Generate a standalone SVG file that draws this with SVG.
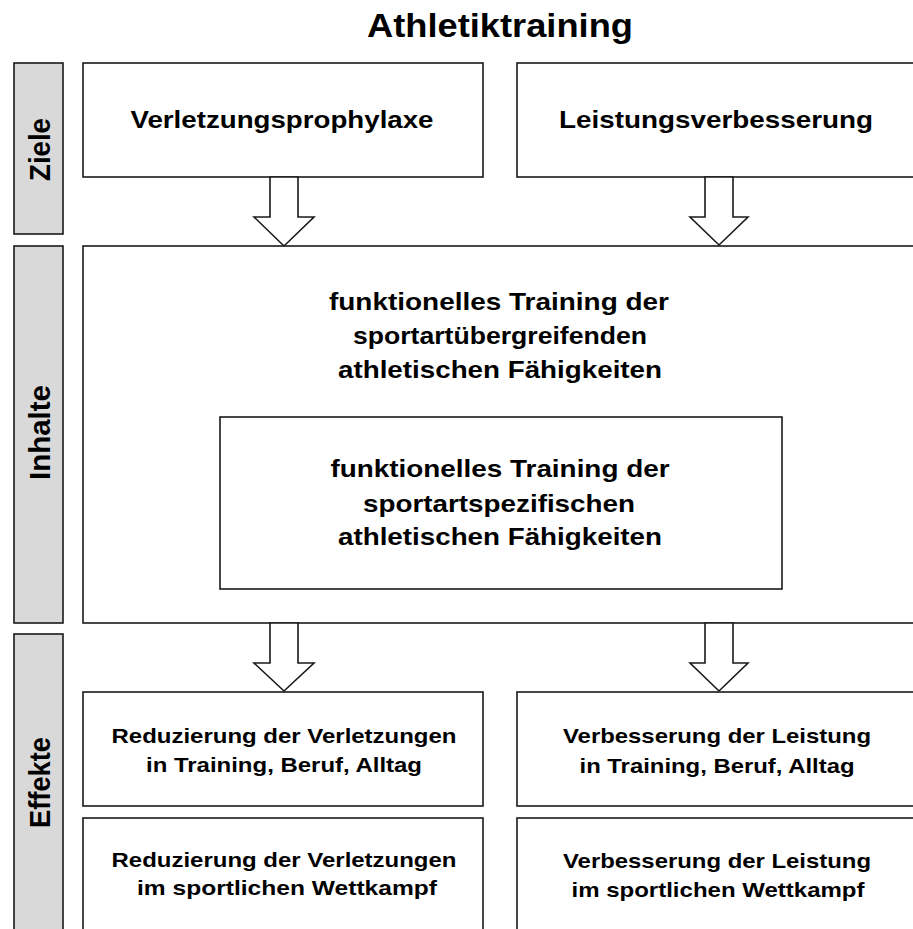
<svg xmlns="http://www.w3.org/2000/svg" width="913" height="929" viewBox="0 0 913 929">
<style>
  .box { fill: #ffffff; stroke: #1a1a1a; stroke-width: 1.6; }
  .side { fill: #d9d9d9; stroke: #1a1a1a; stroke-width: 1.6; }
  .arrow { fill: #ffffff; stroke: #1a1a1a; stroke-width: 1.6; stroke-linejoin: miter; }
  text { font-family: "Liberation Sans", Arial, sans-serif; font-weight: bold; fill: #000; text-anchor: middle; }
  .t22 { font-size: 24px; }
  .t20 { font-size: 21px; }
  .side-t { font-size: 29px; }
</style>
<rect width="913" height="929" fill="#ffffff"/>

<g id="title">
  <text x="500" y="37" style="font-size:33px" textLength="266" lengthAdjust="spacingAndGlyphs">Athletiktraining</text>
</g>

<g id="side-ziele">
  <rect class="side" x="14" y="63" width="49" height="171"/>
  <text class="side-t" transform="translate(49.5,149.5) rotate(-90)" x="0" y="0" textLength="63" lengthAdjust="spacingAndGlyphs">Ziele</text>
</g>
<g id="side-inhalte">
  <rect class="side" x="14" y="246" width="49" height="377"/>
  <text class="side-t" transform="translate(49.5,432.5) rotate(-90)" x="0" y="0" textLength="95" lengthAdjust="spacingAndGlyphs">Inhalte</text>
</g>
<g id="side-effekte">
  <rect class="side" x="14" y="634" width="49" height="310"/>
  <text class="side-t" transform="translate(49.5,782.5) rotate(-90)" x="0" y="0" textLength="91" lengthAdjust="spacingAndGlyphs">Effekte</text>
</g>

<g id="ziel-verletzung">
  <rect class="box" x="83" y="63" width="400" height="114"/>
  <text class="t22" x="282" y="128" textLength="303" lengthAdjust="spacingAndGlyphs">Verletzungsprophylaxe</text>
</g>
<g id="ziel-leistung">
  <rect class="box" x="517" y="63" width="410" height="114"/>
  <text class="t22" x="716" y="128" textLength="314" lengthAdjust="spacingAndGlyphs">Leistungsverbesserung</text>
</g>

<g id="inhalte">
  <rect class="box" x="83" y="246" width="844" height="377"/>
  <text class="t22" x="499" y="310" textLength="340" lengthAdjust="spacingAndGlyphs">funktionelles Training der</text>
  <text class="t22" x="500" y="344" textLength="294" lengthAdjust="spacingAndGlyphs">sportartübergreifenden</text>
  <text class="t22" x="500" y="378" textLength="324" lengthAdjust="spacingAndGlyphs">athletischen Fähigkeiten</text>
</g>
<g id="inhalte-spezifisch">
  <rect class="box" x="220" y="417" width="562" height="172"/>
  <text class="t22" x="500" y="477" textLength="339" lengthAdjust="spacingAndGlyphs">funktionelles Training der</text>
  <text class="t22" x="499" y="512" textLength="272" lengthAdjust="spacingAndGlyphs">sportartspezifischen</text>
  <text class="t22" x="500" y="545" textLength="324" lengthAdjust="spacingAndGlyphs">athletischen Fähigkeiten</text>
</g>

<g id="effekt-verletzung-alltag">
  <rect class="box" x="83" y="692" width="400" height="114"/>
  <text class="t20" x="284" y="743" textLength="345" lengthAdjust="spacingAndGlyphs">Reduzierung der Verletzungen</text>
  <text class="t20" x="284" y="772" textLength="276" lengthAdjust="spacingAndGlyphs">in Training, Beruf, Alltag</text>
</g>
<g id="effekt-leistung-alltag">
  <rect class="box" x="517" y="692" width="410" height="114"/>
  <text class="t20" x="717" y="743" textLength="308" lengthAdjust="spacingAndGlyphs">Verbesserung der Leistung</text>
  <text class="t20" x="717" y="773" textLength="275" lengthAdjust="spacingAndGlyphs">in Training, Beruf, Alltag</text>
</g>
<g id="effekt-verletzung-wettkampf">
  <rect class="box" x="83" y="818" width="400" height="130"/>
  <text class="t20" x="284" y="867" textLength="345" lengthAdjust="spacingAndGlyphs">Reduzierung der Verletzungen</text>
  <text class="t20" x="287" y="895" textLength="300" lengthAdjust="spacingAndGlyphs">im sportlichen Wettkampf</text>
</g>
<g id="effekt-leistung-wettkampf">
  <rect class="box" x="517" y="818" width="410" height="130"/>
  <text class="t20" x="717" y="868" textLength="308" lengthAdjust="spacingAndGlyphs">Verbesserung der Leistung</text>
  <text class="t20" x="718" y="897" textLength="293" lengthAdjust="spacingAndGlyphs">im sportlichen Wettkampf</text>
</g>

<g id="connectors">
  <polygon class="arrow" points="270,177 298,177 298,217 314,217 284,246 254,217 270,217"/>
  <polygon class="arrow" points="705,177 733,177 733,217 748,217 719,245 690,217 705,217"/>
  <polygon class="arrow" points="270,623 298,623 298,663 314,663 284,691 254,663 270,663"/>
  <polygon class="arrow" points="705,623 733,623 733,663 748,663 719,691 690,663 705,663"/>
</g>
</svg>
